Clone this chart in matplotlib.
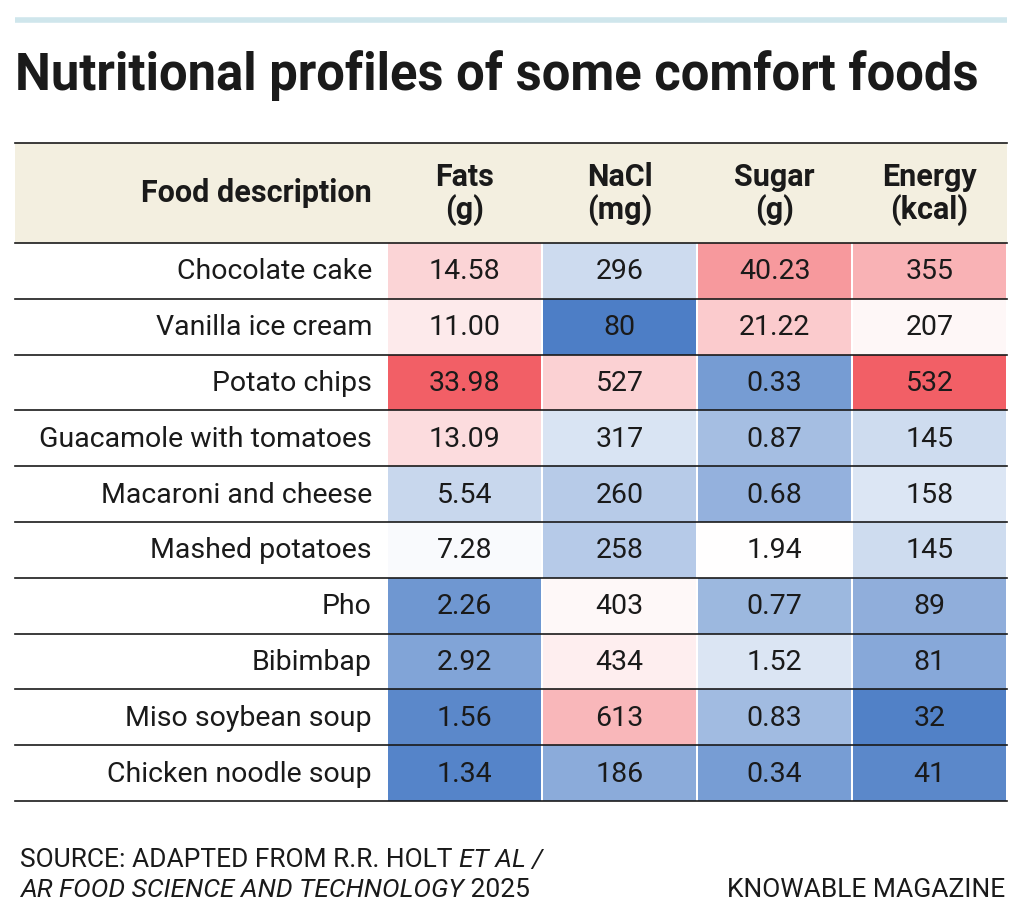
import matplotlib
matplotlib.use("Agg")
import matplotlib.pyplot as plt
from matplotlib.patches import Rectangle
from matplotlib.colors import LinearSegmentedColormap, TwoSlopeNorm

foods = ["Chocolate cake", "Vanilla ice cream", "Potato chips", "Guacamole with tomatoes",
         "Macaroni and cheese", "Mashed potatoes", "Pho", "Bibimbap",
         "Miso soybean soup", "Chicken noodle soup"]
headers = ["Fats\n(g)", "NaCl\n(mg)", "Sugar\n(g)", "Energy\n(kcal)"]
fats = [14.58, 11.00, 33.98, 13.09, 5.54, 7.28, 2.26, 2.92, 1.56, 1.34]
nacl = [296, 80, 527, 317, 260, 258, 403, 434, 613, 186]
sugar = [40.23, 21.22, 0.33, 0.87, 0.68, 1.94, 0.77, 1.52, 0.83, 0.34]
energy = [355, 207, 532, 145, 158, 145, 89, 81, 32, 41]
fats_txt = ["14.58", "11.00", "33.98", "13.09", "5.54", "7.28", "2.26", "2.92", "1.56", "1.34"]
sugar_txt = ["40.23", "21.22", "0.33", "0.87", "0.68", "1.94", "0.77", "1.52", "0.83", "0.34"]

columns = [fats, nacl, sugar, energy]
labels = [fats_txt, [str(v) for v in nacl], sugar_txt, [str(v) for v in energy]]
# (vmin, vcenter, vmax) colour scaling per column
scales = [(0.9, 7.5, 34.0), (75, 380, 900), (-0.2, 1.94, 62), (25, 190, 532)]

cmap = LinearSegmentedColormap.from_list("div", ["#4a7cc5", "#ffffff", "#f25f66"])

FONT = ["Roboto", "DejaVu Sans"]
plt.rcParams["font.family"] = FONT

fig = plt.figure(figsize=(10.24, 9.22), dpi=100)
ax = fig.add_axes([0, 0, 1, 1])
ax.set_xlim(0, 1024)
ax.set_ylim(922, 0)
ax.axis("off")

left, right = 15, 1007
ax.plot([left, right], [20, 20], color="#cfe6ec", lw=4, solid_capstyle="butt")
ax.text(left, 76, "Nutritional profiles of some comfort foods", fontsize=36.5,
        fontweight="bold", va="center", ha="left", color="#1a1a1a")

head_top, head_bot = 143, 243
row_h = 55.8
col_x = [387, 542, 697, 852, 1007]
ax.add_patch(Rectangle((left, head_top), right - left, head_bot - head_top,
                       facecolor="#f3efe0", edgecolor="none"))
ax.text(372, 193, "Food description", fontsize=22, fontweight="bold",
        ha="right", va="center", color="#1a1a1a")
for j, h in enumerate(headers):
    ax.text((col_x[j] + col_x[j + 1]) / 2, 194, h, fontsize=22, fontweight="bold",
            ha="center", va="center", color="#1a1a1a", linespacing=1.05)

for j, (vals, txt, sc) in enumerate(zip(columns, labels, scales)):
    norm = TwoSlopeNorm(vmin=sc[0], vcenter=sc[1], vmax=sc[2])
    for i, v in enumerate(vals):
        y0 = head_bot + i * row_h
        ax.add_patch(Rectangle((col_x[j] + 1, y0), col_x[j + 1] - col_x[j] - 2, row_h,
                               facecolor=cmap(norm(v)), edgecolor="none"))
        ax.text((col_x[j] + col_x[j + 1]) / 2, y0 + row_h / 2 + 1, txt[i], fontsize=20.5,
                ha="center", va="center", color="#1a1a1a")

for i, f in enumerate(foods):
    y0 = head_bot + i * row_h
    ax.text(372, y0 + row_h / 2 + 1, f, fontsize=20.5, ha="right", va="center",
            color="#1a1a1a")
for i in range(len(foods) + 1):
    y = head_bot + i * row_h
    ax.plot([left, right], [y, y], color="#1a1a1a", lw=1.2)
ax.plot([left, right], [head_top, head_top], color="#1a1a1a", lw=1.2)

# footer with mixed italic pieces
fig.canvas.draw()
renderer = fig.canvas.get_renderer()


def run(x, y, parts):
    for s, style in parts:
        t = ax.text(x, y, s, fontsize=19, style=style, ha="left", va="center",
                    color="#1a1a1a")
        bb = t.get_window_extent(renderer)
        x += bb.width


run(left + 5, 860, [("SOURCE: ADAPTED FROM R.R. HOLT ", "normal"), ("ET AL /", "italic")])
run(left + 5, 890, [("AR FOOD SCIENCE AND TECHNOLOGY", "italic"), (" 2025", "normal")])
ax.text(1005, 890, "KNOWABLE MAGAZINE", fontsize=19, ha="right", va="center",
        color="#1a1a1a")

fig.savefig("out.png", dpi=100)
